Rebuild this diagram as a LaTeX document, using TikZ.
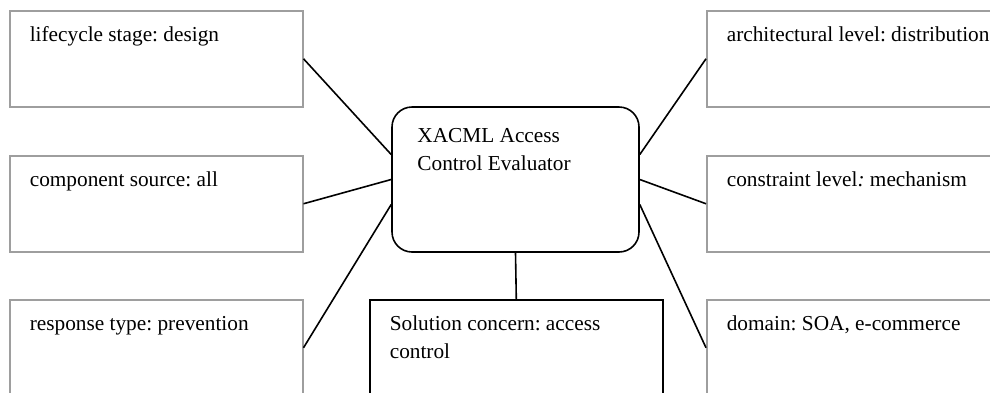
\documentclass[tikz,border=0pt]{standalone}
\usepackage{fontspec}
\setmainfont{Liberation Serif}
\frenchspacing
\definecolor{boxgray}{RGB}{158,158,158}

\begin{document}
\begin{tikzpicture}[x=1pt,y=-1pt,
	box/.style={draw=boxgray,line width=1.5pt,minimum width=293pt,minimum height=96pt,anchor=north west,inner sep=0pt},
	boxtext/.style={anchor=base west,align=left,inner sep=0pt,font=\fontsize{21.3}{28.4}\selectfont},
	intext/.style={boxtext,xshift=20.6pt,yshift=-31pt},
	twoline/.style={yshift=-28.4pt},
	edge/.style={line width=1.6pt}]
		\path[use as bounding box,clip] (0,0) rectangle (990,392);
		
		% facets on the left
		\node (stage)[box,label={[intext]north west:{lifecycle stage: design}}] at (9,10) {};
		\node (source)[box,label={[intext]north west:{component source: all}}] at (9,155) {};
		\node (response)[box,label={[intext]north west:{response type: prevention}}] at (9,299) {};
		
		% facets on the right
		\node (arch)[box,label={[intext]north west:{architectural level: distribution}}] at (706,10) {};
		\node (constraint)[box,label={[intext]north west:{constraint level\textit{:} mechanism}}] at (706,155) {};
		\node (domain)[box,label={[intext]north west:{domain: SOA, e-commerce}}] at (706,299) {};
		
		% the evaluator and its concern
		\node (xacml)[draw,line width=1.6pt,rounded corners=20pt,minimum width=247pt,minimum height=145pt,
			label={[boxtext,xshift=26pt,yshift=-36.3pt,twoline]north west:{XACML Access\\Control Evaluator}}] at (515.5,179.5) {};
		\node (concern)[box,draw=black,line width=1.6pt,label={[intext,twoline]north west:{Solution concern: access\\control}}] at (369,299) {};
		
		\draw[edge] (stage.east) -- ([yshift=25pt]xacml.west);
		\draw[edge] (source.east) -- (xacml.west);
		\draw[edge] (response.east) -- ([yshift=-25pt]xacml.west);
		\draw[edge] (arch.west) -- ([yshift=25pt]xacml.east);
		\draw[edge] (constraint.west) -- (xacml.east);
		\draw[edge] (domain.west) -- ([yshift=-25pt]xacml.east);
		\draw[edge] (xacml.south) -- (concern.north);
	\end{tikzpicture}
\end{document}
